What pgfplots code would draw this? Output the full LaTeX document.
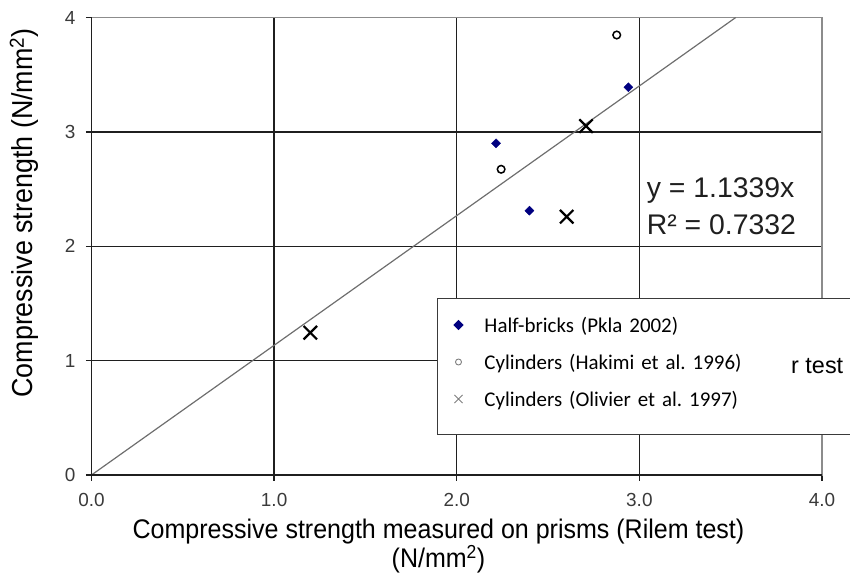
\documentclass[border=0pt]{standalone}
\usepackage{fontspec}
\setmainfont{Liberation Sans}
\newfontfamily\legfont{Carlito}
\newfontfamily\labfont{Liberation Sans}[FakeStretch=0.93]
\usepackage{pgfplots}
\pgfplotsset{compat=1.18}

\definecolor{gridc}{HTML}{1F1F1F}
\definecolor{boxc}{HTML}{8C8C8C}
\definecolor{tickc}{HTML}{3A3A3A}
\definecolor{navyd}{HTML}{000080}
\definecolor{trend}{HTML}{6E6E6E}

\begin{document}
\frenchspacing
\begin{tikzpicture}
\path[use as bounding box] (-91.5bp,-99bp) rectangle (758.5bp,475bp);
\begin{axis}[
    at={(0,0)}, anchor=south west,
    scale only axis, width=730.5bp, height=457.5bp,
    xmin=0, xmax=4, ymin=0, ymax=4,
    xtick={0,1,2,3,4}, ytick={0,1,2,3,4},
    grid=major,
    major grid style={draw=gridc, line width=1.4bp},
    axis line style={draw=boxc, line width=1.4bp},
    tick pos=left, tick align=outside, major tick length=5.5bp,
    tick style={draw=gridc, line width=1.4bp},
    x tick label style={/pgf/number format/fixed, /pgf/number format/fixed zerofill, /pgf/number format/precision=1, yshift=-9bp},
    y tick label style={xshift=-7bp},
    /pgf/number format/assume math mode=true,
    tick label style={font=\fontsize{19}{21}\selectfont, text=tickc},
    xlabel={Compressive strength measured on prisms (Rilem test)\\(N/mm\textsuperscript{2})},
    xlabel style={at={(axis description cs:0.475,-0.0962)}, anchor=north, align=center, inner sep=0pt, font=\labfont\fontsize{27}{29}\selectfont},
    ylabel={Compressive strength (N/mm\textsuperscript{2})},
    ylabel style={at={(axis description cs:-0.0801,0.5727)}, anchor=base, inner sep=0pt, font=\labfont\fontsize{29}{31}\selectfont},
    legend cell align=left,
    legend image code/.code={\path[draw=none, fill=none] (0bp,0bp) rectangle (24bp,1bp); \draw[#1] plot coordinates {(12bp,4.5bp)};},
    legend style={at={(0.47296,0.38689)}, anchor=north west, draw=tickc, line width=1bp, fill=white,
        inner xsep=9bp, inner ysep=18bp, row sep=11bp, column sep=0bp,
        font=\legfont\fontsize{21}{24}\selectfont,
        nodes={inner xsep=14bp, inner ysep=0bp, text width=360bp, align=left, text height=15.5bp, text depth=10.5bp, anchor=west}},
]
% trend line y = 1.1339x
\addplot[trend, line width=1.2bp, forget plot] coordinates {(0,0) (3.5276,4)};
% half-bricks
\addplot[only marks, mark=square*, mark size=3.2bp, mark options={rotate=45, fill=navyd, draw=navyd}, forget plot]
    coordinates {(2.215,2.900) (2.398,2.311) (2.940,3.390)};
% cylinders Hakimi
\addplot[only marks, mark=o, mark size=3.8bp, mark options={line width=1.5bp, draw=black}, forget plot]
    coordinates {(2.243,2.673) (2.876,3.847)};
% cylinders Olivier
\addplot[only marks, mark=x, mark size=9.5bp, mark options={line width=2.2bp, draw=black}, forget plot]
    coordinates {(1.198,1.244) (2.602,2.258) (2.708,3.051)};

\addlegendimage{only marks, mark=square*, mark size=3.2bp, mark options={rotate=45, fill=navyd, draw=navyd}}
\addlegendentry{Half-bricks (Pkla 2002)}
\addlegendimage{only marks, mark=o, mark size=3bp, mark options={line width=0.9bp, draw=gray}}
\addlegendentry{Cylinders (Hakimi et al. 1996)}
\addlegendimage{only marks, mark=x, mark size=5.8bp, mark options={line width=0.9bp, draw=gray}}
\addlegendentry{Cylinders (Olivier et al. 1997)}

\node[anchor=base west, inner sep=0pt, font=\fontsize{28.5}{30}\selectfont, text=gridc] at (axis cs:3.04,2.427) {y = 1.1339x};
\node[anchor=base west, inner sep=0pt, font=\fontsize{28.5}{30}\selectfont, text=gridc] at (axis cs:3.04,2.107) {R² = 0.7332};
\end{axis}
\draw[gridc, line width=1.4bp] (0,457.5bp) -- (0,0) -- (730.5bp,0);
\node[anchor=base west, inner sep=0pt, font=\fontsize{23.5}{26}\selectfont, text=black] at (699.5bp,101bp) {r test};
\end{tikzpicture}
\end{document}
